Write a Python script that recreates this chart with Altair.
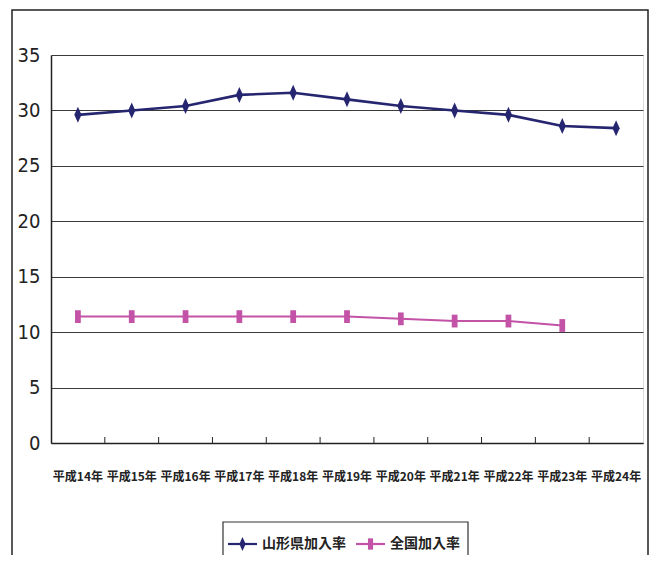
import altair as alt
import pandas as pd

years = ["平成14年", "平成15年", "平成16年", "平成17年", "平成18年", "平成19年",
         "平成20年", "平成21年", "平成22年", "平成23年", "平成24年"]
yamagata = [29.6, 30.0, 30.4, 31.4, 31.6, 31.0, 30.4, 30.0, 29.6, 28.6, 28.4]
national = [11.4, 11.4, 11.4, 11.4, 11.4, 11.4, 11.2, 11.0, 11.0, 10.6, None]
series_names = ["山形県加入率", "全国加入率"]
series_colors = ["#25266F", "#C353A6"]
y_ticks = [0, 5, 10, 15, 20, 25, 30, 35]

DIAMOND = "M0,-1L0.45,0L0,1L-0.45,0Z"
RECT = "M-0.36,-0.8L0.36,-0.8L0.36,0.8L-0.36,0.8Z"

rows = []
for name, vals in zip(series_names, [yamagata, national]):
    for yr, v in zip(years, vals):
        if v is not None:
            rows.append({"year": yr, "series": name, "rate": v})
df = pd.DataFrame(rows)

W, H = 592, 388
CJK = "Noto Sans CJK JP"
NARROW = "Liberation Sans Narrow, DejaVu Sans Condensed, sans-serif"

xscale = alt.Scale(type="band", domain=years, paddingInner=0, paddingOuter=0)
xaxis = alt.Axis(title=None, labelAngle=0, ticks=False, labelPadding=28,
                 labelFont=CJK, labelFontSize=12, labelFontWeight="bold", labelColor="#222",
                 domainColor="#222", domainWidth=1.5, grid=False)


def xenc(bp):
    return alt.X("year:N", sort=years, scale=xscale, bandPosition=bp, axis=xaxis)


yenc = alt.Y("rate:Q", scale=alt.Scale(domain=[0, 35], nice=False),
             axis=alt.Axis(title=None, values=y_ticks, ticks=False, labelPadding=11,
                           labelFont=NARROW, labelFontSize=20, labelColor="#222",
                           gridColor="#3a3a3a", gridWidth=1, domainColor="#222",
                           domainWidth=1.5))
color = alt.Color("series:N", scale=alt.Scale(domain=series_names, range=series_colors), legend=None)
shape = alt.Shape("series:N", scale=alt.Scale(domain=series_names, range=[DIAMOND, RECT]), legend=None)
swidth = alt.StrokeWidth("series:N", scale=alt.Scale(domain=series_names, range=[2.6, 2.0]), legend=None)

one = pd.DataFrame({"a": [0]})

frame = alt.Chart(one).mark_rect(fillOpacity=0, stroke="#222", strokeWidth=1.5).encode(
    x=alt.value(-39), x2=alt.value(597), y=alt.value(-45), y2=alt.value(540))

lines = alt.Chart(df).mark_line().encode(x=xenc(0.5), y=yenc, color=color, strokeWidth=swidth)
points = alt.Chart(df).mark_point(filled=True, size=256, opacity=1).encode(
    x=xenc(0.5), y=yenc, color=color, shape=shape)

ticks = alt.Chart(pd.DataFrame({"year": years[1:]})).mark_rule(color="#222", strokeWidth=1).encode(
    x=xenc(0), y=alt.value(H - 6), y2=alt.value(H))

leg_box = alt.Chart(one).mark_rect(fillOpacity=0, stroke="#333", strokeWidth=1.2).encode(
    x=alt.value(172), x2=alt.value(417), y=alt.value(467), y2=alt.value(560))
leg_layers = [leg_box]
for i, (name, col, shp) in enumerate(zip(series_names, series_colors, [DIAMOND, RECT])):
    x0 = 177 + i * 128
    leg_layers.append(alt.Chart(one).mark_rule(color=col, strokeWidth=2.2).encode(
        x=alt.value(x0), x2=alt.value(x0 + 29), y=alt.value(489)))
    leg_layers.append(alt.Chart(one).mark_point(filled=True, opacity=1, shape=shp, size=200, color=col).encode(
        x=alt.value(x0 + 14.5), y=alt.value(489)))
    leg_layers.append(alt.Chart(one).mark_text(text=name, font=CJK, fontSize=14, fontWeight="bold",
                                               color="#222", align="left", baseline="middle").encode(
        x=alt.value(x0 + 34), y=alt.value(489)))

chart = alt.layer(frame, lines, points, ticks, *leg_layers).properties(
    width=W, height=H,
    autosize=alt.AutoSizeParams(type="none"),
    padding={"left": 43, "top": 47, "right": 6, "bottom": 112},
).configure_view(fill="#C9C9CB", stroke="#8a8a8a", strokeWidth=1.2).configure(background="white")

chart.save("out.html", embed_options={"renderer": "svg", "actions": False})
